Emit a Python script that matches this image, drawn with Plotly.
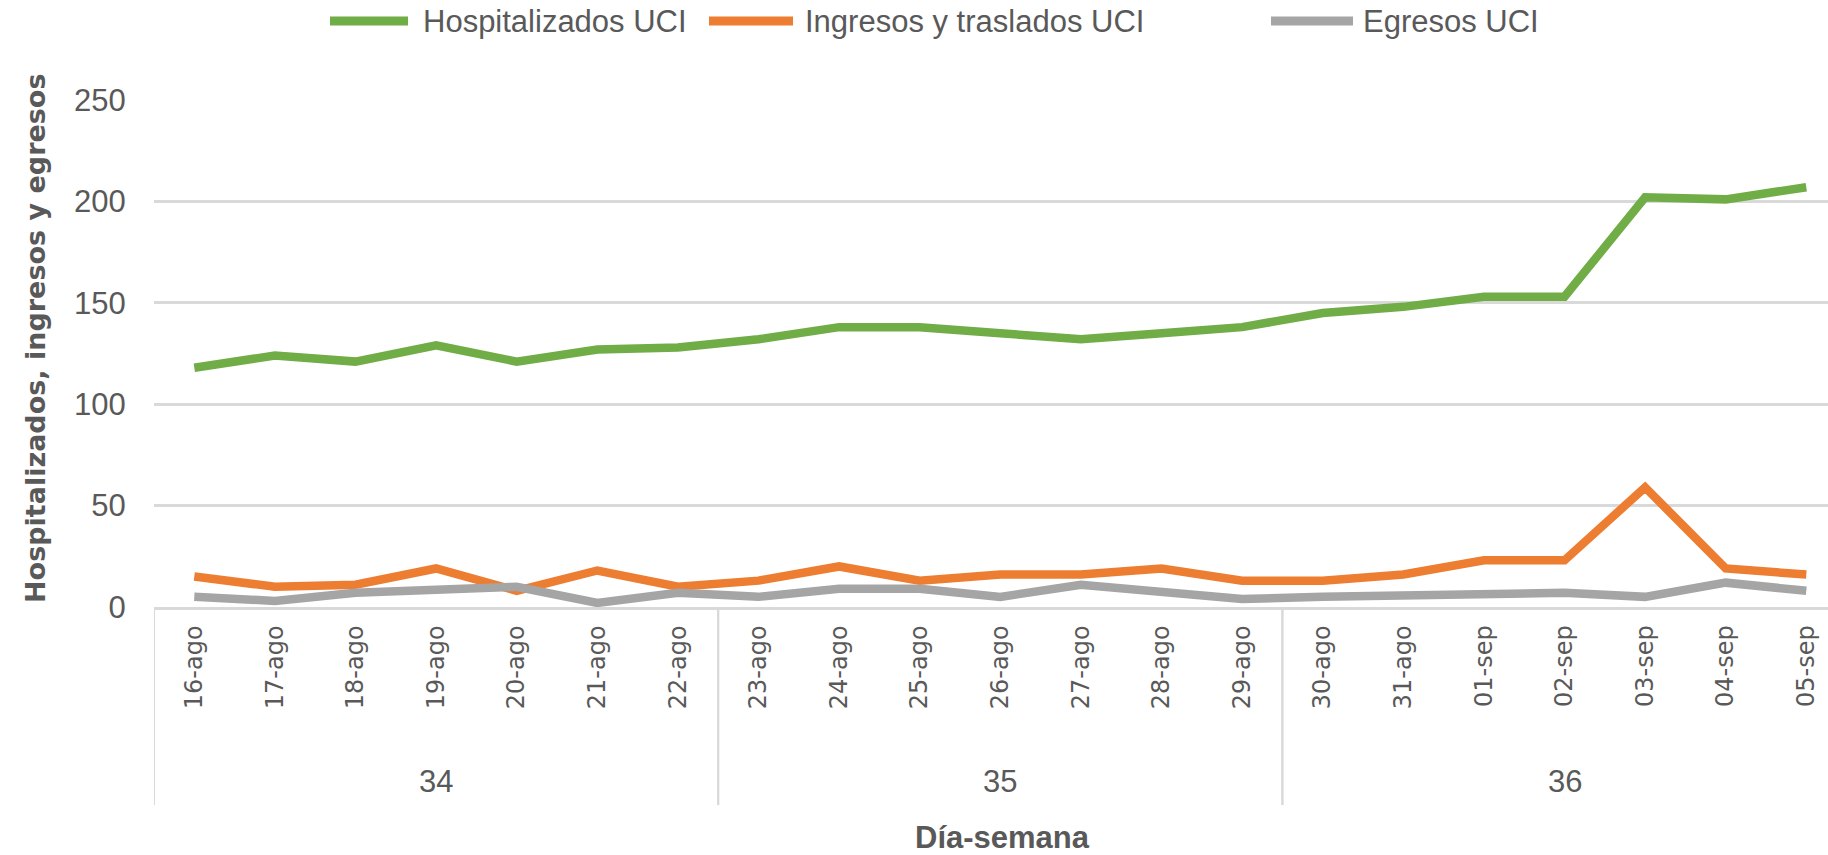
import plotly.graph_objects as go

# ---- data ----
dates = ["16-ago", "17-ago", "18-ago", "19-ago", "20-ago", "21-ago", "22-ago",
         "23-ago", "24-ago", "25-ago", "26-ago", "27-ago", "28-ago", "29-ago",
         "30-ago", "31-ago", "01-sep", "02-sep", "03-sep", "04-sep", "05-sep"]
weeks = ["34", "34", "34", "34", "34", "34", "34",
         "35", "35", "35", "35", "35", "35", "35",
         "36", "36", "36", "36", "36", "36", "36"]
hospitalizados = [118, 124, 121, 129, 121, 127, 128, 132, 138, 138, 135,
                  132, 135, 138, 145, 148, 153, 153, 202, 201, 207]
ingresos = [15, 10, 11, 19, 8, 18, 10, 13, 20, 13, 16,
            16, 19, 13, 13, 16, 23, 23, 59, 19, 16]
egresos = [5, 3, 7, 9, 10, 2, 7, 5, 9, 9, 5,
           11, 7, 4, 5, 6, 7, 7, 5, 12, 8]
series_names = ["Hospitalizados UCI", "Ingresos y traslados UCI", "Egresos UCI"]
y_ticks = [0, 50, 100, 150, 200, 250]

# ---- style ----
COLORS = ["#70AD47", "#ED7D31", "#A5A5A5"]
TXT = "#595959"
GRID = "#D9D9D9"
SANS = "Liberation Sans, Arial, sans-serif"
DJV = "DejaVu Sans, Verdana, sans-serif"

W, H = 1828, 855
L, R, T, B = 154, 0, 100, 248
PW, PH = W - L - R, H - T - B
CAT_W = 80.6


def px_x(px):
    return (px - L) / PW


def px_y(py):
    return (H - B - py) / PH


fig = go.Figure()
for name, vals, col in zip(series_names, [hospitalizados, ingresos, egresos], COLORS):
    fig.add_trace(go.Scatter(
        x=dates, y=vals, mode="lines", name=name,
        line=dict(color=col, width=8.5), showlegend=False,
    ))

# custom legend (long line samples like the original)
legend_lines = [(330, 408, 421), (709, 793, 803), (1271, 1353, 1361)]
shapes = []
annotations = []
for (x0, x1, xt), name, col in zip(legend_lines, series_names, COLORS):
    shapes.append(dict(type="line", xref="paper", yref="paper",
                       x0=px_x(x0), x1=px_x(x1), y0=px_y(21), y1=px_y(21),
                       line=dict(color=col, width=9)))
    annotations.append(dict(text=name, xref="paper", yref="paper",
                            x=px_x(xt), y=px_y(21), xanchor="left", yanchor="middle",
                            showarrow=False, font=dict(family=SANS, size=31, color=TXT)))

# week group dividers and labels, derived from the weeks list
groups = []
start = 0
for i in range(1, len(weeks) + 1):
    if i == len(weeks) or weeks[i] != weeks[start]:
        groups.append((weeks[start], start, i - 1))
        start = i
x_max = -0.5 + PW / CAT_W
for wk, s, e in groups:
    for bx in (s - 0.5, e + 0.5):
        if bx <= x_max:
            shapes.append(dict(type="line", xref="x", yref="paper",
                               x0=bx, x1=bx, y0=0, y1=px_y(805),
                               line=dict(color=GRID, width=2)))
    annotations.append(dict(text=wk, xref="x", yref="paper",
                            x=(s + e) / 2, y=px_y(781), xanchor="center", yanchor="middle",
                            showarrow=False, font=dict(family=SANS, size=31, color=TXT)))

# axis titles
annotations.append(dict(text="<b>Día-semana</b>", xref="paper", yref="paper",
                        x=px_x(1003), y=px_y(837), xanchor="center", yanchor="middle",
                        showarrow=False, font=dict(family=SANS, size=31, color=TXT)))
annotations.append(dict(text="<b>Hospitalizados, ingresos y egresos</b>", xref="paper", yref="paper",
                        x=px_x(35), y=px_y(339), xanchor="center", yanchor="middle",
                        textangle=-90, showarrow=False,
                        font=dict(family=DJV, size=27, color=TXT)))

fig.update_layout(
    width=W, height=H,
    margin=dict(l=L, r=R, t=T, b=B, pad=0),
    paper_bgcolor="white", plot_bgcolor="white",
    shapes=shapes, annotations=annotations,
    xaxis=dict(
        type="category", categoryorder="array", categoryarray=dates,
        range=[-0.5, x_max],
        showgrid=False, zeroline=False,
        showline=True, linecolor=GRID, linewidth=2.5,
        tickangle=-90, ticks="outside", ticklen=6, tickcolor="rgba(0,0,0,0)",
        tickfont=dict(family=DJV, size=24, color=TXT),
    ),
    yaxis=dict(
        range=[0, 250], tickvals=y_ticks,
        showgrid=True, gridcolor=GRID, gridwidth=2.5,
        zeroline=False, showline=False,
        ticks="outside", ticklen=21, tickcolor="rgba(0,0,0,0)",
        tickfont=dict(family=SANS, size=31, color=TXT),
    ),
)

fig.write_html(
    "out.html",
    config={"displayModeBar": False},
    post_script="document.body.style.margin='0';document.body.style.overflow='hidden';",
)
